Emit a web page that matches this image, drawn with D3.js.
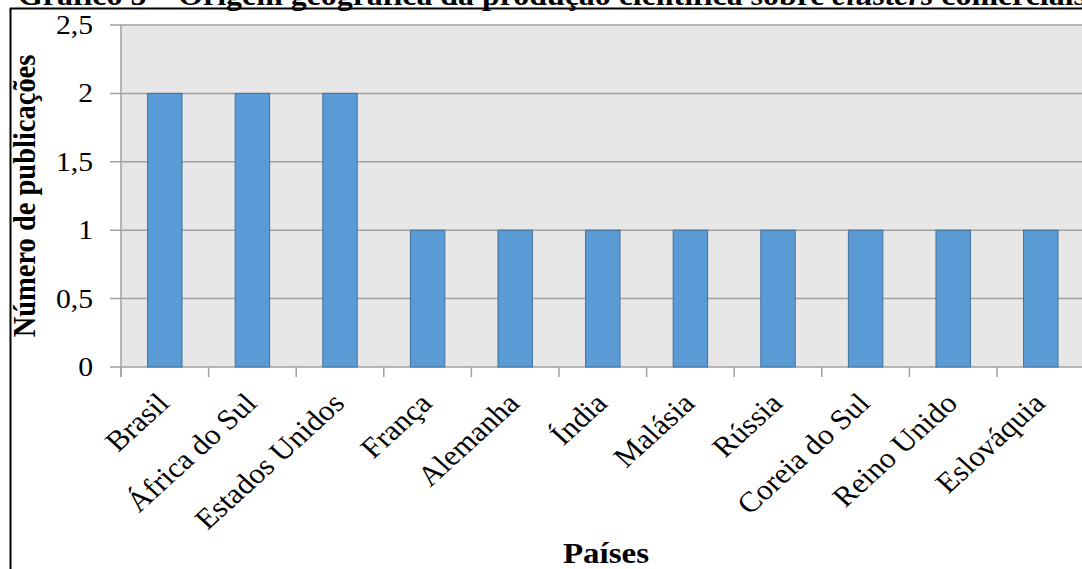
<!DOCTYPE html>
<html>
<head>
<meta charset="utf-8">
<script src="https://cdn.jsdelivr.net/npm/d3@7"></script>
<style>
  body { margin:0; background:#fff; }
  text { font-family: "Liberation Serif", "Times New Roman", serif; fill:#000; }
</style>
</head>
<body>
<script>
// data
var paises = ["Brasil","África do Sul","Estados Unidos","França","Alemanha","Índia","Malásia","Rússia","Coreia do Sul","Reino Unido","Eslováquia"];
var publicacoes = [2,2,2,1,1,1,1,1,1,1,1];
var yTicks = [0,0.5,1,1.5,2,2.5];
var yTickLabels = ["0","0,5","1","1,5","2","2,5"];

var W=1082, H=569;
var sx=1.1; // text looks a bit stretched sideways in the picture
var plotLeft=121, plotTop=25, plotBottom=367, step=87.6;

var svg=d3.select("body").append("svg").attr("width",W).attr("height",H);

// title (cut at the top in the picture)
svg.append("text")
  .attr("transform","translate(18,5) scale("+sx+",1)")
  .style("font-size","29px").style("font-weight","bold")
  .html('Gráfico 5 – Origem geográfica da produção científica sobre <tspan font-style="italic">clusters</tspan> comerciais');

// frame
svg.append("line").attr("x1",10).attr("x2",W).attr("y1",8.5).attr("y2",8.5).attr("stroke","#000").attr("stroke-width",2);
svg.append("line").attr("x1",10.5).attr("x2",10.5).attr("y1",8).attr("y2",H).attr("stroke","#000").attr("stroke-width",2);

var x=d3.scaleBand().domain(paises).range([plotLeft,plotLeft+step*paises.length]).paddingInner(0.607).paddingOuter(0.3035);
var y=d3.scaleLinear().domain([0,2.5]).range([plotBottom,plotTop]);

// plot area
svg.append("rect").attr("x",plotLeft).attr("y",plotTop).attr("width",step*paises.length).attr("height",plotBottom-plotTop).attr("fill","#e7e7e7");

// grid lines + y ticks
svg.selectAll(".grid").data(yTicks).enter().append("line")
  .attr("x1",plotLeft-11).attr("x2",W)
  .attr("y1",function(d){return y(d);}).attr("y2",function(d){return y(d);})
  .attr("stroke","#a0a0a0").attr("stroke-width",1.5);
svg.append("line").attr("x1",plotLeft).attr("x2",plotLeft).attr("y1",plotTop).attr("y2",plotBottom+10).attr("stroke","#a0a0a0").attr("stroke-width",1.5);

svg.selectAll(".ylab").data(yTicks).enter().append("text")
  .attr("transform",function(d){return "translate(93,"+(y(d)+9)+") scale("+sx+",1)";})
  .attr("text-anchor","end").style("font-size","27px")
  .text(function(d,i){return yTickLabels[i];});

// bars
svg.selectAll("rect.bar").data(publicacoes).enter().append("rect")
  .attr("class","bar")
  .attr("x",function(d,i){return x(paises[i]);})
  .attr("width",x.bandwidth())
  .attr("y",function(d){return y(d);})
  .attr("height",function(d){return y(0)-y(d);})
  .attr("fill","#5b9bd5").attr("stroke","#41719c").attr("stroke-width",1);

// x axis ticks at category edges
var edges=paises.map(function(p){return x(p)+x.bandwidth()/2-step/2;});
edges.push(edges[edges.length-1]+step);
svg.selectAll(".xt").data(edges).enter().append("line")
  .attr("x1",function(d){return d;}).attr("x2",function(d){return d;})
  .attr("y1",plotBottom).attr("y2",plotBottom+10)
  .attr("stroke","#a0a0a0").attr("stroke-width",1.5);

// x labels
svg.selectAll(".xlab").data(paises).enter().append("text")
  .attr("transform",function(d){return "translate("+(x(d)+x.bandwidth()/2+6)+",405) scale("+sx+",1) rotate(-45)";})
  .attr("text-anchor","end").style("font-size","28.5px")
  .text(function(d){return d;});

// axis titles
svg.append("text")
  .attr("transform","translate(606,563) scale("+sx+",1)")
  .attr("text-anchor","middle").style("font-size","30px").style("font-weight","bold")
  .text("Países");
svg.append("text")
  .attr("transform","translate(35,196) scale("+sx+",1) rotate(-90)")
  .attr("text-anchor","middle").style("font-size","28.5px").style("font-weight","bold")
  .text("Número de publicações");
</script>
</body>
</html>
